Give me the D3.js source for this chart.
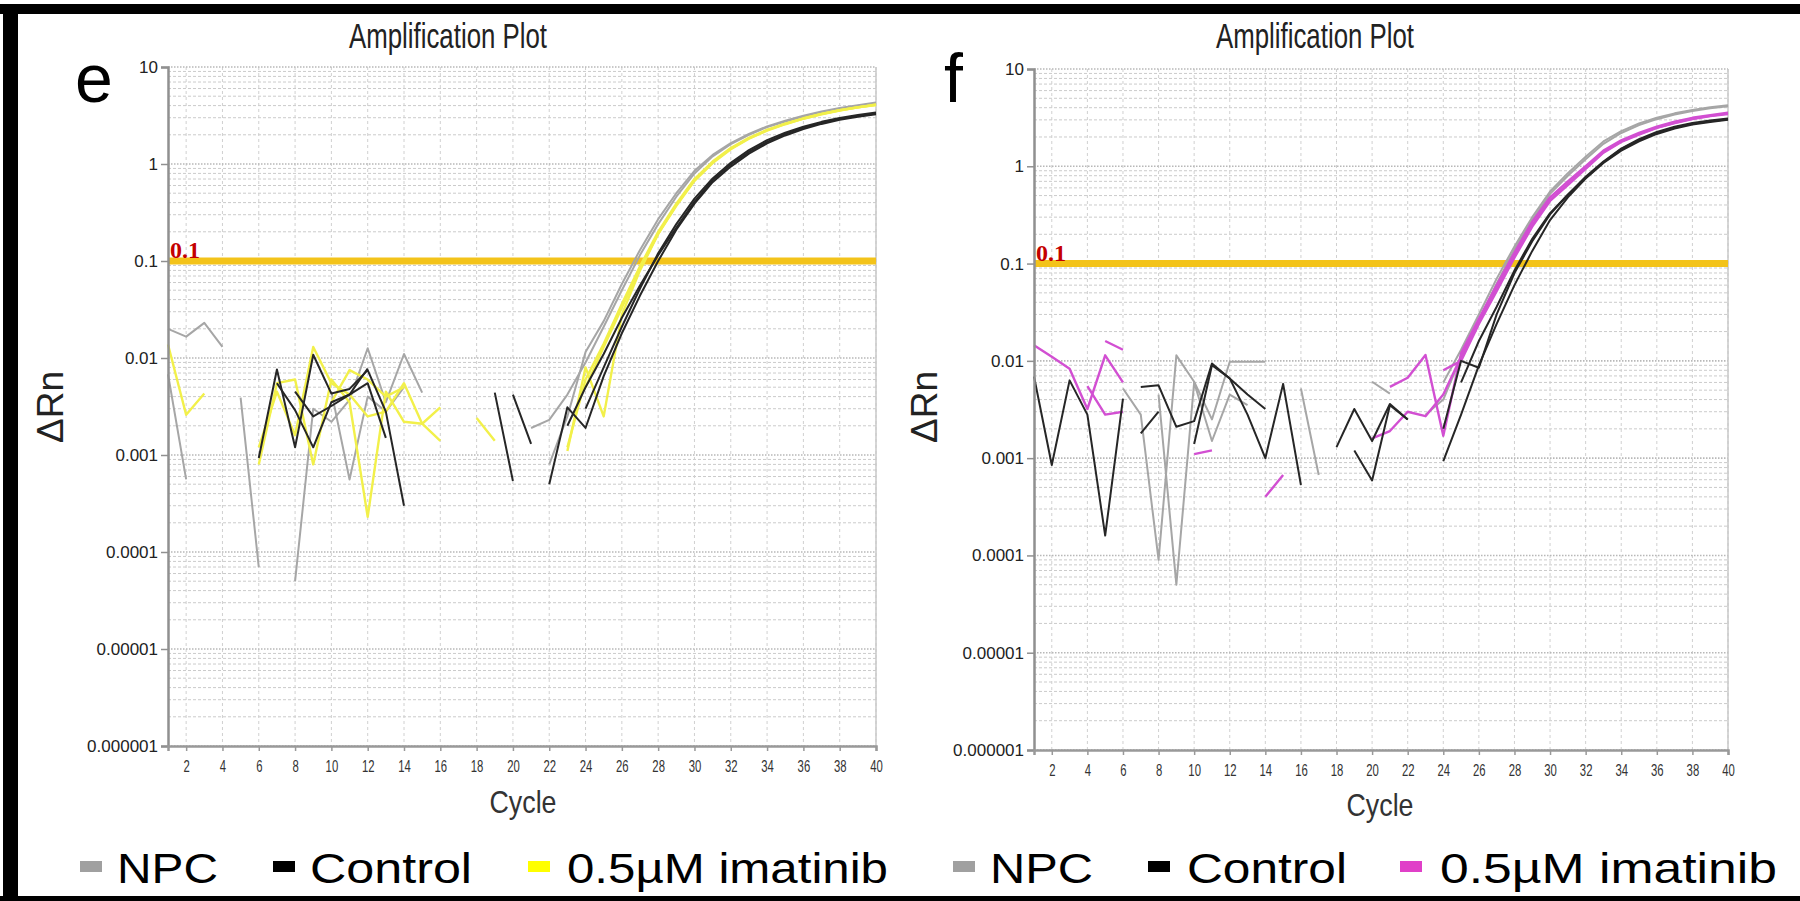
<!DOCTYPE html>
<html><head><meta charset="utf-8">
<script src="https://cdn.jsdelivr.net/npm/d3@7"></script>
<style>
html,body{margin:0;padding:0;background:#fff;overflow:hidden}
svg{display:block}
</style></head><body>
<svg id="chart" width="1800" height="901"></svg>
<script>
const _ = null;
const cycles = [1,2,3,4,5,6,7,8,9,10,11,12,13,14,15,16,17,18,19,20,21,22,23,24,25,26,27,28,29,30,31,32,33,34,35,36,37,38,39,40];
const yTickValues = [10,1,0.1,0.01,0.001,0.0001,0.00001,0.000001];
const yTickLabels = ["10","1","0.1","0.01","0.001","0.0001","0.00001","0.000001"];
const xTickValues = [2,4,6,8,10,12,14,16,18,20,22,24,26,28,30,32,34,36,38,40];
const xTickLabels = ["2","4","6","8","10","12","14","16","18","20","22","24","26","28","30","32","34","36","38","40"];
const thresholdValue = 0.1;
const thresholdLabel = "0.1";
const legendLabels = ["NPC","Control","0.5µM imatinib"];
const panelLetters = ["e","f"];
const titleText = "Amplification Plot";
const xTitle = "Cycle";
const yTitle = "ΔRn";

// Panel e
const eNPC1 = [0.020,0.0166,0.023,0.013,_,_,_,0.00005,0.003,0.0022,0.0037,0.0126,0.0035,0.011,0.0044,_,_,_,_,_,_,0.0008,0.0025,0.0115,0.024,0.058,0.13,0.27,0.5,0.85,1.24,1.64,2.04,2.44,2.8,3.14,3.47,3.77,4.04,4.3];
const eNPC2 = [0.0068,0.00056,_,_,0.0039,0.00007,_,_,_,0.0045,0.00056,0.004,0.0028,0.005,_,_,_,_,_,_,0.0019,0.0023,0.0042,0.009,0.021,0.05,0.115,0.24,0.46,0.8,1.2,1.6,2.0,2.4,2.74,3.07,3.4,3.7,3.96,4.2];
const eCtl1 = [_,_,_,_,_,0.00093,0.0076,0.0012,0.0108,0.0043,0.0048,0.0075,0.0028,0.0003,_,_,_,_,0.0044,0.00054,_,0.0005,0.0031,0.0019,0.0065,0.018,0.044,0.1,0.21,0.39,0.65,0.94,1.28,1.63,1.97,2.29,2.59,2.85,3.07,3.25];
const eCtl2 = [_,_,_,_,_,_,0.0055,0.0029,0.0012,0.0035,0.0042,0.0078,_,_,_,_,_,_,_,0.0042,0.0013,_,0.002,0.005,0.011,0.026,0.056,0.115,0.22,0.41,0.68,0.99,1.33,1.69,2.03,2.36,2.66,2.91,3.13,3.32];
const eCtl3 = [_,_,_,_,_,_,_,0.0045,0.0025,0.0032,0.0042,0.0055,0.0015,_,_,_,_,_,_,_,_,_,_,0.003,0.008,0.021,0.052,0.12,0.24,0.44,0.71,1.03,1.39,1.76,2.1,2.42,2.72,2.98,3.2,3.4];
const eIma1 = [0.0138,0.0026,0.0043,_,_,0.0008,0.0055,0.006,0.0008,0.006,0.0035,0.00023,0.0045,0.0022,0.0021,0.0031,_,_,_,_,_,_,0.0012,0.006,0.014,0.036,0.088,0.2,0.39,0.7,1.06,1.46,1.86,2.25,2.61,2.96,3.29,3.59,3.85,4.05];
const eIma2 = [_,_,_,_,_,0.0012,0.0045,0.0016,0.013,0.0055,0.0042,0.0025,0.0028,0.0055,0.0021,0.0014,_,0.0024,0.0014,_,_,_,0.0011,0.008,0.0025,0.028,0.08,0.19,0.37,0.67,1.02,1.42,1.82,2.21,2.57,2.93,3.26,3.56,3.83,4.1];
const eIma3 = [_,_,_,_,_,_,_,_,_,0.0035,0.0075,0.006,0.004,0.005,_,_,_,_,_,_,_,_,_,0.005,0.013,0.033,0.083,0.19,0.38,0.68,1.04,1.44,1.84,2.23,2.59,2.94,3.28,3.58,3.84,4.08];

// Panel f
const fNPC1 = [_,_,_,_,_,0.0052,0.0028,0.00009,0.0114,0.0061,0.0025,0.0098,0.0098,0.0098,_,0.0052,0.00067,_,_,0.0061,0.0046,_,_,0.006,0.013,0.03,0.07,0.15,0.3,0.55,0.85,1.25,1.8,2.3,2.75,3.15,3.5,3.8,4.05,4.25];
const fNPC2 = [_,_,_,_,_,_,_,0.0045,0.00005,0.006,0.0015,0.0045,0.0035,_,_,_,_,_,_,_,_,_,0.0028,0.004,0.011,0.026,0.062,0.14,0.28,0.52,0.8,1.18,1.7,2.2,2.65,3.05,3.4,3.7,3.95,4.15];
const fCtl1 = [0.0069,0.00085,0.0063,0.0028,0.00016,0.0041,_,_,_,_,_,_,_,_,_,_,_,0.0013,0.0032,0.0015,0.0036,0.0025,_,0.00093,0.0028,0.009,0.024,0.06,0.135,0.28,0.48,0.75,1.08,1.45,1.8,2.15,2.45,2.68,2.85,3.0];
const fCtl2 = [_,_,_,_,_,_,0.0054,0.0056,0.0021,0.0024,0.0094,0.0066,0.0028,0.001,0.0058,0.00053,_,_,0.0012,0.00059,0.0035,0.0025,_,0.002,0.01,0.0085,0.03,0.08,0.17,0.32,0.51,0.78,1.12,1.52,1.9,2.25,2.55,2.78,2.95,3.1];
const fCtl3 = [_,_,_,_,_,_,0.0018,0.003,_,0.0014,0.009,0.0066,0.0045,0.0032,_,_,_,_,_,_,_,_,_,_,0.006,0.016,0.036,0.085,0.18,0.33,0.51,0.76,1.1,1.5,1.86,2.2,2.5,2.73,2.9,3.05];
const fIma1 = [0.0145,0.011,0.0083,0.0032,0.0114,0.006,_,_,_,_,_,_,_,_,_,_,_,_,_,0.0016,0.0019,0.003,0.0027,0.0045,0.011,0.025,0.055,0.12,0.25,0.45,0.66,0.96,1.4,1.8,2.15,2.5,2.8,3.1,3.3,3.5];
const fIma2 = [_,_,_,0.0055,0.0028,0.003,_,_,_,0.0011,0.0012,_,_,0.0004,0.00067,_,_,_,_,_,0.0054,0.0067,0.0115,0.0017,0.012,0.027,0.06,0.13,0.27,0.48,0.7,1.0,1.45,1.85,2.2,2.55,2.88,3.15,3.35,3.55];
const fIma3 = [_,_,_,_,0.016,0.013,_,_,_,_,_,_,_,_,_,_,_,_,_,_,_,_,_,0.008,0.01,0.024,0.052,0.115,0.24,0.44,0.64,0.94,1.38,1.78,2.12,2.48,2.78,3.06,3.28,3.45];

// ---------- drawing ----------
const svg = d3.select("#chart");
const FONT = "'Liberation Sans', Arial, sans-serif";

// frame
svg.append("rect").attr("x",0).attr("y",0).attr("width",1800).attr("height",901).attr("fill","#fff");
svg.append("rect").attr("x",0).attr("y",4).attr("width",1800).attr("height",10).attr("fill","#000");
svg.append("rect").attr("x",3).attr("y",4).attr("width",15).attr("height",897).attr("fill","#000");
svg.append("rect").attr("x",0).attr("y",896).attr("width",1800).attr("height",5).attr("fill","#000");

const panels = [
  { letter: panelLetters[0], left:168, right:876, top:67, bottom:746, titleX:448, letterX:75, yTitleX:63, cycleX:523, cycleY:813,
    colors:{NPC:"#a6a6a6", Control:"#262626", Ima:"#f2f04a"}, legendColor:"#ffff00",
    series:[{g:"NPC",v:eNPC1},{g:"NPC",v:eNPC2},{g:"Ima",v:eIma1},{g:"Ima",v:eIma2},{g:"Ima",v:eIma3},{g:"Control",v:eCtl1},{g:"Control",v:eCtl2},{g:"Control",v:eCtl3}],
    legend:{sw:[80,273,528], tx:[117,310,567], tl:[101,162,321]} },
  { letter: panelLetters[1], left:1034, right:1728, top:69, bottom:750, titleX:1315, letterX:944, yTitleX:937, cycleX:1380, cycleY:816,
    colors:{NPC:"#a6a6a6", Control:"#262626", Ima:"#d24fd2"}, legendColor:"#e040c8",
    series:[{g:"NPC",v:fNPC1},{g:"NPC",v:fNPC2},{g:"Ima",v:fIma1},{g:"Ima",v:fIma2},{g:"Ima",v:fIma3},{g:"Control",v:fCtl1},{g:"Control",v:fCtl2},{g:"Control",v:fCtl3}],
    legend:{sw:[953,1148,1400], tx:[990,1187,1440], tl:[103,160,337]} }
];

panels.forEach((p, pi) => {
  const x = d3.scaleLinear().domain([cycles[0], cycles[cycles.length-1]]).range([p.left, p.right]);
  const y = d3.scaleLog().domain([yTickValues[yTickValues.length-1], yTickValues[0]]).range([p.bottom, p.top]);
  const g = svg.append("g");

  // grid: minor horizontal
  const minor = [];
  yTickValues.slice(1).forEach(d => { for (let k = 2; k <= 9; k++) minor.push(d*k); });
  g.append("g").selectAll("line").data(minor).join("line")
    .attr("x1", p.left).attr("x2", p.right).attr("y1", d => y(d)).attr("y2", d => y(d))
    .attr("stroke", "#cbcbcb").attr("stroke-width", 1).attr("stroke-dasharray", "3,2");
  // vertical grid
  g.append("g").selectAll("line").data(xTickValues).join("line")
    .attr("x1", d => x(d)).attr("x2", d => x(d)).attr("y1", p.top).attr("y2", p.bottom)
    .attr("stroke", "#d0d0d0").attr("stroke-width", 1).attr("stroke-dasharray", "3,3");
  // major horizontal
  g.append("g").selectAll("line").data(yTickValues).join("line")
    .attr("x1", p.left).attr("x2", p.right).attr("y1", d => y(d)).attr("y2", d => y(d))
    .attr("stroke", "#b8b8b8").attr("stroke-width", 1.6).attr("stroke-dasharray", "1.5,1.5");
  // right border
  g.append("line").attr("x1", p.right).attr("x2", p.right).attr("y1", p.top).attr("y2", p.bottom)
    .attr("stroke", "#c8c8c8").attr("stroke-width", 1.5);

  // threshold
  g.append("line").attr("x1", p.left).attr("x2", p.right).attr("y1", y(thresholdValue)).attr("y2", y(thresholdValue))
    .attr("stroke", "#f3c31a").attr("stroke-width", 7);
  g.append("text").attr("x", p.left + 2).attr("y", y(thresholdValue) - 3)
    .attr("font-family", "'Liberation Serif', 'Times New Roman', serif").attr("font-weight", "bold")
    .attr("font-size", 24).attr("fill", "#c40000").text(thresholdLabel);

  // data lines
  const line = d3.line().defined(d => d.v !== null).x(d => x(d.c)).y(d => y(d.v));
  g.append("g").selectAll("path").data(p.series).join("path")
    .attr("d", s => line(cycles.map((c, i) => ({c, v: s.v[i]}))))
    .attr("fill", "none").attr("stroke", s => p.colors[s.g])
    .attr("stroke-width", s => s.g === "Ima" ? 2.4 : 2).attr("stroke-linejoin", "round");

  // axes
  const yAxis = d3.axisLeft(y).tickValues(yTickValues).tickFormat((d, i) => yTickLabels[i]).tickSize(7).tickPadding(3);
  const ya = g.append("g").attr("transform", `translate(${p.left},0)`).call(yAxis);
  ya.select(".domain").attr("stroke", "#909090").attr("stroke-width", 2.5);
  ya.selectAll(".tick line").attr("stroke", "#909090").attr("stroke-width", 1.5);
  ya.selectAll(".tick text").attr("font-family", FONT).attr("font-size", 17).attr("fill", "#222");

  const xAxis = d3.axisBottom(x).tickValues(xTickValues).tickFormat((d, i) => xTickLabels[i]).tickSize(5).tickPadding(9);
  const xa = g.append("g").attr("transform", `translate(0,${p.bottom})`).call(xAxis);
  xa.select(".domain").attr("stroke", "#999").attr("stroke-width", 2.5);
  xa.selectAll(".tick line").attr("stroke", "#999").attr("stroke-width", 1.5);
  xa.selectAll(".tick text").attr("font-family", FONT).attr("font-size", 17).attr("fill", "#333")
    .attr("textLength", (d, i) => xTickLabels[i].length * 6.3).attr("lengthAdjust", "spacingAndGlyphs");

  // titles
  g.append("text").attr("x", p.titleX).attr("y", 48).attr("text-anchor", "middle")
    .attr("font-family", FONT).attr("font-size", 35).attr("fill", "#222")
    .attr("textLength", 198).attr("lengthAdjust", "spacingAndGlyphs").text(titleText);
  g.append("text").attr("x", p.letterX).attr("y", 102)
    .attr("font-family", FONT).attr("font-size", 68).attr("fill", "#000").text(p.letter);
  g.append("text").attr("transform", `translate(${p.yTitleX},407) rotate(-90)`).attr("text-anchor", "middle")
    .attr("font-family", FONT).attr("font-size", 37).attr("fill", "#222").text(yTitle);
  g.append("text").attr("x", p.cycleX).attr("y", p.cycleY).attr("text-anchor", "middle")
    .attr("font-family", FONT).attr("font-size", 32).attr("fill", "#333")
    .attr("textLength", 67).attr("lengthAdjust", "spacingAndGlyphs").text(xTitle);

  // legend
  const legColors = ["#a0a0a0", "#000", p.legendColor];
  legendLabels.forEach((lab, i) => {
    g.append("rect").attr("x", p.legend.sw[i]).attr("y", 861).attr("width", 22).attr("height", 11).attr("fill", legColors[i]);
    g.append("text").attr("x", p.legend.tx[i]).attr("y", 883)
      .attr("font-family", FONT).attr("font-size", 43).attr("fill", "#000")
      .attr("textLength", p.legend.tl[i]).attr("lengthAdjust", "spacingAndGlyphs").text(lab);
  });
});
</script>
</body></html>
